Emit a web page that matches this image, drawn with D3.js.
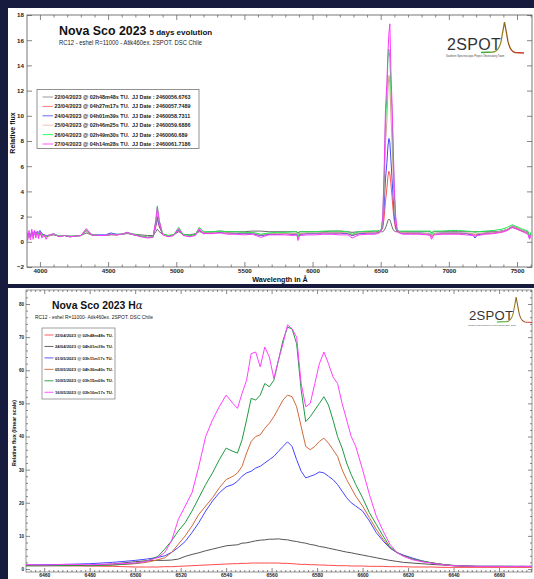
<!DOCTYPE html>
<html><head><meta charset="utf-8">
<script src="https://cdn.jsdelivr.net/npm/d3@7"></script>
<style>html,body{margin:0;padding:0;background:#171b3d;}svg{display:block}</style>
</head><body><svg id="c" width="534" height="579"></svg>
<script>
// ---------- TOP PANEL DATA (wavelength in Å, relative flux) ----------
const topWave = [3900,3910,3920,3930,3940,3950,3960,3970,3980,3990,4000,4015,4030,4045,4060,
4100,4140,4180,4220,4260,4300,4340,4380,4430,4480,
4520,4560,4600,4640,4690,4740,4790,4830,4850,4861,
4875,4900,4940,4980,5018,5050,5100,5140,5169,5200,
5260,5320,5380,5440,5500,5560,5620,5680,5740,5800,
5860,5885,5893,5905,5960,6020,6080,6140,6200,6260,
6290,6340,6400,6460,6490,
6505,6515,6525,6535,6545,6553,6560,6567,6575,6583,6592,6600,6610,6620,6635,6660,
6720,6780,6840,6865,6872,6890,6950,7010,7070,7130,7180,7192,7210,7270,7330,7390,7430,7465,7500,7540,7580,7592,7600];

const flux2204 = [0.35,0.3,0.4,0.35,0.5,0.45,0.6,0.55,0.6,0.5,0.6,0.5,0.45,0.4,0.45,
0.55,0.45,0.5,0.45,0.45,0.5,0.7,0.55,0.5,0.5,
0.55,0.55,0.6,0.65,0.6,0.55,0.5,0.5,0.8,1.0,
0.8,0.6,0.5,0.55,0.8,0.6,0.55,0.65,0.8,0.75,
0.8,0.85,0.8,0.8,0.8,0.85,0.85,0.8,0.8,0.8,
0.8,0.8,0.7,0.8,0.8,0.8,0.8,0.85,0.85,0.8,
0.75,0.8,0.8,0.85,0.8,
0.8,0.8,0.9,1.1,1.4,1.7,1.8,1.75,1.5,1.2,0.95,0.85,0.8,0.8,0.8,0.8,
0.8,0.8,0.8,0.8,0.75,0.8,0.8,0.8,0.8,0.8,0.8,0.8,0.8,0.8,0.8,0.85,0.95,1.15,1.0,0.85,0.8,0.4,0.7];

const flux2304 = [0.7,0.4,0.6,0.5,0.7,0.5,0.75,0.6,0.7,0.6,0.75,0.6,0.5,0.45,0.5,
0.6,0.45,0.5,0.4,0.45,0.5,0.85,0.55,0.5,0.5,
0.6,0.55,0.6,0.7,0.55,0.45,0.35,0.4,1.2,1.8,
1.2,0.6,0.45,0.5,0.9,0.55,0.45,0.55,0.9,0.65,
0.7,0.75,0.7,0.65,0.65,0.65,0.5,0.6,0.6,0.65,
0.6,0.6,0.35,0.6,0.65,0.65,0.7,0.7,0.7,0.65,
0.5,0.65,0.7,0.7,0.75,
0.9,1.1,1.9,3.2,4.2,5.2,5.6,5.4,4.6,3.6,2.4,1.6,1.0,0.8,0.75,0.7,
0.65,0.65,0.6,0.6,0.35,0.6,0.65,0.65,0.65,0.65,0.6,0.55,0.6,0.65,0.7,0.8,0.95,1.2,1.05,0.85,0.7,0.3,0.6];

const flux2404 = [0.8,0.5,0.7,0.5,0.8,0.6,0.85,0.7,0.8,0.75,0.9,0.65,0.55,0.5,0.5,
0.6,0.45,0.5,0.4,0.45,0.5,0.9,0.55,0.55,0.55,
0.7,0.6,0.6,0.7,0.55,0.45,0.35,0.4,1.3,2.0,
1.3,0.6,0.45,0.5,0.95,0.55,0.45,0.55,0.95,0.65,
0.7,0.75,0.7,0.65,0.65,0.65,0.5,0.6,0.6,0.65,
0.6,0.6,0.35,0.6,0.65,0.65,0.7,0.7,0.7,0.65,
0.5,0.65,0.7,0.7,0.8,
0.9,1.3,2.8,5.0,6.2,7.6,8.2,7.9,6.5,5.0,3.4,2.0,1.2,0.85,0.75,0.7,
0.7,0.7,0.65,0.6,0.4,0.65,0.7,0.7,0.7,0.65,0.5,0.3,0.55,0.7,0.75,0.85,1.0,1.25,1.1,0.9,0.75,0.3,0.6];

const flux2504 = [0.6,0.4,0.5,0.4,0.6,0.5,0.7,0.55,0.65,0.55,0.7,0.55,0.45,0.4,0.45,
0.6,0.45,0.5,0.4,0.45,0.5,0.9,0.55,0.5,0.5,
0.6,0.55,0.6,0.7,0.55,0.45,0.35,0.4,1.5,2.4,
1.5,0.6,0.45,0.5,1.0,0.55,0.45,0.55,1.0,0.7,
0.7,0.8,0.7,0.7,0.7,0.7,0.55,0.65,0.65,0.65,
0.65,0.65,0.35,0.65,0.7,0.7,0.7,0.75,0.75,0.7,
0.55,0.7,0.75,0.75,0.8,
0.9,1.5,4.0,7.8,9.5,12.0,13.2,12.6,10.0,8.0,5.2,3.0,1.5,0.9,0.75,0.75,
0.7,0.7,0.65,0.6,0.4,0.65,0.7,0.7,0.7,0.7,0.65,0.6,0.65,0.7,0.75,0.85,1.0,1.25,1.1,0.9,0.75,0.35,0.65];

const flux2604 = [0.7,0.3,0.6,0.4,0.7,0.5,0.8,0.6,0.75,0.6,0.8,0.6,0.5,0.45,0.5,
0.65,0.45,0.5,0.45,0.45,0.5,0.95,0.6,0.5,0.5,
0.6,0.6,0.6,0.75,0.6,0.45,0.35,0.4,1.7,2.85,
1.7,0.65,0.5,0.55,1.15,0.6,0.5,0.6,1.15,0.8,
0.8,0.85,0.8,0.8,0.75,0.75,0.6,0.7,0.75,0.75,
0.8,0.8,0.4,0.8,0.8,0.8,0.85,0.85,0.85,0.8,
0.6,0.8,0.85,0.85,0.9,
1.0,1.8,5.0,9.5,11.5,14.5,15.3,14.6,12.2,10.5,6.8,3.8,1.8,1.0,0.85,0.85,
0.85,0.85,0.85,0.85,0.55,0.85,0.85,0.9,0.9,0.85,0.8,0.75,0.8,0.85,0.9,1.0,1.15,1.35,1.2,1.0,0.85,0.4,0.75];

const flux2704 = [1.1,0.1,0.9,0.15,1.0,0.2,0.9,0.3,0.85,0.25,0.8,0.3,0.6,0.2,0.5,
0.65,0.4,0.5,0.4,0.45,0.5,1.05,0.55,0.5,0.5,
0.6,0.55,0.6,0.75,0.55,0.4,0.3,0.35,1.7,2.75,
1.7,0.55,0.4,0.5,1.05,0.5,0.4,0.5,1.05,0.65,
0.65,0.7,0.6,0.6,0.55,0.6,0.35,0.55,0.55,0.55,
0.5,0.55,0.1,0.5,0.55,0.55,0.6,0.6,0.55,0.55,
0.3,0.55,0.6,0.6,0.7,
1.0,2.0,5.5,10.5,12.5,15.0,16.5,17.3,13.5,11.0,7.5,4.2,2.0,1.0,0.7,0.6,
0.6,0.6,0.55,0.5,0.2,0.55,0.6,0.6,0.6,0.55,0.5,0.45,0.5,0.6,0.65,0.75,0.9,1.15,1.0,0.8,0.6,0.2,0.5];

const topLabels = [
 "22/04/2023 @ 02h48m48s TU.\u00a0 JJ Date : 2460056.6763",
 "23/04/2023 @ 04h27m17s TU.\u00a0 JJ Date : 2460057.7489",
 "24/04/2023 @ 04h01m39s TU.\u00a0 JJ Date : 2460058.7311",
 "25/04/2023 @ 02h46m25s TU.\u00a0 JJ Date : 2460059.6886",
 "26/04/2023 @ 02h49m30s TU.\u00a0 JJ Date : 2460060.689",
 "27/04/2023 @ 04h14m28s TU.\u00a0 JJ Date : 2460061.7186"];
const topXTicks = [4000,4500,5000,5500,6000,6500,7000,7500];
const topYTicks = [-2,0,2,4,6,8,10,12,14,16,18];

// ---------- BOTTOM PANEL DATA (H-alpha) ----------
const botWave = [6452,6460,6470,6480,6490,6500,6505,
6510,6513,6516,6519,6522,6525,6528,6531,6534,6537,6540,6543,
6545,6547,6549,6551,6553,6555,6557,6559,6561,6563,6565,6567,6569,6571,6573,6575,6577,6579,6581,6583,6585,6587,6589,6591,6593,6595,6597,
6600,6603,6606,6609,6612,6615,6618,
6622,6626,6630,
6635,6640,6645,6650,6655,6660,6665,6670,6675];

const ha2204 = [1.2,1.1,1.0,0.9,0.8,0.6,0.6,
0.6,0.7,0.7,0.8,0.9,1.0,1.1,1.2,1.3,1.4,1.5,1.6,
1.6,1.7,1.7,1.8,1.8,1.8,1.8,1.8,1.8,1.8,1.7,1.7,1.6,1.5,1.4,1.4,1.3,1.3,1.2,1.2,1.1,1.1,1.0,1.0,1.0,0.9,0.9,
0.9,0.8,0.8,0.8,0.7,0.7,0.7,
0.6,0.6,0.6,
0.5,0.5,0.5,0.5,0.5,0.5,0.5,0.5,0.5];

const ha2404 = [1.0,1.0,1.0,1.1,1.5,2.2,2.5,
2.6,2.6,2.7,3.0,3.8,4.4,4.9,5.5,6.0,6.5,7.0,7.2,
7.3,7.8,7.9,8.2,8.5,8.7,8.8,9.0,9.0,9.1,8.9,8.8,8.5,8.3,8.0,7.8,7.4,7.2,6.8,6.6,6.3,6.0,5.7,5.4,5.1,4.9,4.6,
4.2,3.8,3.4,3.0,2.6,2.3,2.0,
1.8,1.6,1.4,
1.2,1.0,0.9,0.8,0.8,0.8,0.8,0.8,0.8];

const ha0105 = [1.2,1.3,1.4,1.6,2.0,2.6,3.0,
3.5,4.0,5.0,6.5,8.3,11,14,17.5,20.5,23,24.8,25.5,
26.5,28,29,29.5,30.5,31,32,33,34,35.5,37,38.4,37,33,29.5,27.5,28,28.5,29.3,29,28,27,25.5,23.5,21.5,20,19,
17.5,14.5,11,8.5,6.3,5.0,4.2,
3.3,2.5,1.9,
1.4,1.0,0.9,0.8,0.8,0.8,0.8,0.8,0.8];

const ha0505 = [1.0,1.0,1.0,1.0,1.2,1.6,2.0,
2.8,3.4,5.0,7.5,10,13,16.5,19,21.5,24.5,27,28,
29,31,35,38.5,40,40.5,42.5,44,46,48.5,51,52.5,52,49,43,37,36,37,38.5,39.5,38,36,34,30,27,24.5,22,
19,15.5,12,9,6.5,5.0,4.0,
3.0,2.3,1.9,
1.4,1.0,0.8,0.8,0.7,0.7,0.7,0.7,0.7];

const ha1005 = [1.0,1.0,1.1,1.0,1.2,1.7,2.4,
3.8,6.0,8.5,11.5,14,17.5,21.5,25.5,29,33,36.5,35.5,
35,39,45,51.5,51,52.5,56,55,57,63,69,73,72.5,68,54,44.5,46,48,50,52,49.5,45,40,36.5,32,28.5,25.5,
21.5,17,13.5,10,6.7,5.0,4.0,
3.0,2.4,1.9,
1.4,1.1,0.9,0.8,0.8,0.8,0.8,0.7,0.8];

const ha1605 = [1.3,1.2,1.4,1.3,1.5,1.8,2.3,
3.5,5.0,8.5,15,19,23,31,40,45,49,52.5,50,
48.5,53,57,65,65.5,61,67,64,57.5,63,68,73.7,72.5,70,56,49,50,56,62,65.5,62,58,56,50,45,40,37,
30,22.5,16,11.5,7.5,5.0,3.8,
2.8,2.2,1.8,
1.3,1.0,0.9,0.8,0.8,0.8,0.7,0.8,0.7];

const botLabels = [
 "22/04/2023 @ 02h48m48s TU.",
 "24/04/2023 @ 04h01m39s TU.",
 "01/05/2023 @ 03h11m17s TU.",
 "05/05/2023 @ 04h30m40s TU.",
 "10/05/2023 @ 03h15m09s TU.",
 "16/05/2023 @ 03h10m17s TU."];
const botXTicks = [6460,6480,6500,6520,6540,6560,6580,6600,6620,6640,6660];
const botYTicks = [0,10,20,30,40,50,60,70,80];

// ---------- STYLES ----------
const FONT = "'Liberation Sans', Arial, Helvetica, sans-serif";
const topColors = ["#6a6a6a","#ff5252","#4848ff","#d4a196","#1eea4c","#ff38ff"];
const topLegendColors = ["#9a9a9a","#ff7a7a","#6a6aff","#f0c4bc","#33ff66","#ff55ff"];
const botColors = ["#ff4a4a","#555555","#4646ff","#cf6a3a","#1f9a42","#ff40ff"];

const svg = d3.select("#c");
svg.append("rect").attr("width",534).attr("height",579).attr("fill","#171b3d");
svg.append("rect").attr("x",8).attr("y",8).attr("width",526).attr("height",276).attr("fill","#fff");
svg.append("rect").attr("x",8).attr("y",288).attr("width",526).attr("height",291).attr("fill","#fff");

const defs = svg.append("defs");
const grad = defs.append("linearGradient").attr("id","lg").attr("x1","0").attr("x2","1").attr("y1","0").attr("y2","0");
grad.append("stop").attr("offset","0").attr("stop-color","#22b83a");
grad.append("stop").attr("offset","0.45").attr("stop-color","#9c8a1c");
grad.append("stop").attr("offset","0.6").attr("stop-color","#8a5a14");
grad.append("stop").attr("offset","1").attr("stop-color","#e03030");

function styleAxis(g, fs){
  g.select(".domain").remove();
  g.selectAll("line").attr("stroke","#555").attr("stroke-width",0.7);
  g.selectAll("text").attr("font-family",FONT).attr("font-size",fs).attr("font-weight","bold").attr("fill","#222");
}
function fit(t, w){
  const n = t.node().getComputedTextLength();
  if (n > 0) t.attr("textLength", w).attr("lengthAdjust","spacingAndGlyphs");
}

function drawLogo(x, y, s){
  const g = svg.append("g").attr("transform",`translate(${x},${y}) scale(${s})`);
  g.append("text").attr("x",0).attr("y",0).attr("font-family",FONT).attr("font-size",16)
   .attr("fill","#333").attr("letter-spacing",0.3).text("2SPOT");
  g.append("path").attr("d","M 34,2.5 L 46,2 Q 53,1.5 55,-14 L 57.5,-28 L 60,-14 Q 62,1 68,2.5 L 77,3")
   .attr("fill","none").attr("stroke","url(#lg)").attr("stroke-width",1.3);
  g.append("text").attr("x",-1).attr("y",7).attr("font-family",FONT).attr("font-size",2.6)
   .attr("fill","#444").text("Southern Spectroscopic Project Observatory Team");
}

// ================= TOP PANEL =================
{
  const x0=27, x1=532, y0=15, y1=267;
  const x = d3.scaleLinear().domain([3905,7610]).range([x0,x1]);
  const y = d3.scaleLinear().domain([-2,18]).range([y1,y0]);
  defs.append("clipPath").attr("id","cpt").append("rect").attr("x",x0).attr("y",y0).attr("width",x1-x0).attr("height",y1-y0);

  const minorX = d3.range(3950,7601,50).filter(v=>v%500!==0 && v%100===0);
  styleAxis(svg.append("g").attr("transform",`translate(0,${y1})`)
    .call(d3.axisBottom(x).tickValues(topXTicks).tickSize(-5).tickPadding(2).tickFormat(d3.format("d"))), 6.2);
  styleAxis(svg.append("g").attr("transform",`translate(0,${y1})`)
    .call(d3.axisBottom(x).tickValues(minorX).tickSize(-2.5).tickFormat("")), 6);
  styleAxis(svg.append("g").attr("transform",`translate(0,${y0})`)
    .call(d3.axisTop(x).tickValues(topXTicks).tickSize(-5).tickFormat("")), 6);
  styleAxis(svg.append("g").attr("transform",`translate(0,${y0})`)
    .call(d3.axisTop(x).tickValues(minorX).tickSize(-2.5).tickFormat("")), 6);
  styleAxis(svg.append("g").attr("transform",`translate(${x0},0)`)
    .call(d3.axisLeft(y).tickValues(topYTicks).tickSize(-5).tickPadding(3).tickFormat(d3.format("d"))), 6.2);
  styleAxis(svg.append("g").attr("transform",`translate(${x1},0)`)
    .call(d3.axisRight(y).tickValues(topYTicks).tickSize(-5).tickFormat("")), 6);
  svg.append("rect").attr("x",x0).attr("y",y0).attr("width",x1-x0).attr("height",y1-y0)
    .attr("fill","none").attr("stroke","#555").attr("stroke-width",0.8);

  const series = [flux2204, flux2304, flux2404, flux2504, flux2604, flux2704];
  const line = d3.line().x(d=>x(d[0])).y(d=>y(d[1]));
  const gl = svg.append("g").attr("clip-path","url(#cpt)");
  series.forEach((s,i)=>{
    gl.append("path").datum(topWave.map((w,j)=>[w,s[j]]))
      .attr("d",line).attr("fill","none").attr("stroke",topColors[i]).attr("stroke-width",1)
      .attr("stroke-linejoin","round");
  });

  // titles
  const t = svg.append("text").attr("x",59).attr("y",35).attr("font-family",FONT).attr("font-weight","bold").attr("fill","#111");
  t.append("tspan").attr("font-size",12.4).text("Nova Sco 2023");
  t.append("tspan").attr("font-size",8).attr("dx",3).text("5 days evolution");
  const st = svg.append("text").attr("x",59).attr("y",44.5).attr("font-family",FONT).attr("font-size",7.6)
    .attr("fill","#222").text("RC12 - eshel R=11000 - Atik460ex. 2SPOT. DSC Chile");
  fit(st,143);

  // legend
  svg.append("rect").attr("x",37).attr("y",89.5).attr("width",162).attr("height",59)
    .attr("fill","#fff").attr("stroke","#777").attr("stroke-width",0.8);
  const ref = svg.append("text").attr("font-family",FONT).attr("font-size",5.4).attr("font-weight","bold").text(topLabels[0]);
  const k = 136/ref.node().getComputedTextLength(); ref.remove();
  topLabels.forEach((lab,i)=>{
    const yy = 97 + i*9.4;
    svg.append("line").attr("x1",42.5).attr("x2",53).attr("y1",yy).attr("y2",yy)
      .attr("stroke",topLegendColors[i]).attr("stroke-width",1);
    const tt = svg.append("text").attr("x",54.5).attr("y",yy+2).attr("font-family",FONT)
      .attr("font-size",5.4).attr("font-weight","bold").attr("fill","#222").text(lab);
    tt.attr("textLength", tt.node().getComputedTextLength()*k).attr("lengthAdjust","spacingAndGlyphs");
  });

  // axis titles
  svg.append("text").attr("x",280).attr("y",281.5).attr("text-anchor","middle").attr("font-family",FONT)
    .attr("font-size",7.2).attr("font-weight","bold").attr("fill","#111").text("Wavelength in Å");
  svg.append("text").attr("transform","translate(14.5,133) rotate(-90)").attr("text-anchor","middle")
    .attr("font-family",FONT).attr("font-size",7).attr("font-weight","bold").attr("fill","#111").text("Relative flux");

  drawLogo(447,50,1);
}

// ================= BOTTOM PANEL =================
{
  const x0=26, x1=532, y0=290, y1=572;
  const x = d3.scaleLinear().domain([6452,6674.5]).range([x0,x1]);
  const y = d3.scaleLinear().domain([0,80]).range([569,304]);
  defs.append("clipPath").attr("id","cpb").append("rect").attr("x",x0).attr("y",y0).attr("width",x1-x0).attr("height",y1-y0);

  const minorX = d3.range(6454,6675,2).filter(v=>v%20!==0);
  const minorY = d3.range(2,85,2).filter(v=>v%10!==0);
  styleAxis(svg.append("g").attr("transform",`translate(0,${y1})`)
    .call(d3.axisBottom(x).tickValues(botXTicks).tickSize(-4).tickPadding(1.5).tickFormat(d3.format("d"))), 5);
  styleAxis(svg.append("g").attr("transform",`translate(0,${y1})`)
    .call(d3.axisBottom(x).tickValues(minorX).tickSize(-2).tickFormat("")), 5);
  styleAxis(svg.append("g").attr("transform",`translate(0,${y0})`)
    .call(d3.axisTop(x).tickValues(botXTicks).tickSize(-4).tickFormat("")), 5);
  styleAxis(svg.append("g").attr("transform",`translate(0,${y0})`)
    .call(d3.axisTop(x).tickValues(minorX).tickSize(-2).tickFormat("")), 5);
  styleAxis(svg.append("g").attr("transform",`translate(${x0},0)`)
    .call(d3.axisLeft(y).tickValues(botYTicks).tickSize(-4).tickPadding(2).tickFormat(d3.format("d"))), 4.6);
  styleAxis(svg.append("g").attr("transform",`translate(${x0},0)`)
    .call(d3.axisLeft(y).tickValues(minorY).tickSize(-2).tickFormat("")), 4.6);
  styleAxis(svg.append("g").attr("transform",`translate(${x1},0)`)
    .call(d3.axisRight(y).tickValues(botYTicks).tickSize(-4).tickFormat("")), 4.6);
  styleAxis(svg.append("g").attr("transform",`translate(${x1},0)`)
    .call(d3.axisRight(y).tickValues(minorY).tickSize(-2).tickFormat("")), 4.6);
  svg.append("rect").attr("x",x0).attr("y",y0).attr("width",x1-x0).attr("height",y1-y0)
    .attr("fill","none").attr("stroke","#666").attr("stroke-width",0.7);

  const series = [ha2204, ha2404, ha0105, ha0505, ha1005, ha1605];
  const line = d3.line().x(d=>x(d[0])).y(d=>y(d[1]));
  const gl = svg.append("g").attr("clip-path","url(#cpb)");
  series.forEach((s,i)=>{
    gl.append("path").datum(botWave.map((w,j)=>[w,s[j]]))
      .attr("d",line).attr("fill","none").attr("stroke",botColors[i]).attr("stroke-width",1)
      .attr("stroke-linejoin","round");
  });

  const t = svg.append("text").attr("x",52).attr("y",309).attr("font-family",FONT).attr("font-weight","bold")
    .attr("font-size",10.4).attr("fill","#111");
  t.append("tspan").text("Nova Sco 2023 H");
  t.append("tspan").attr("font-family","'DejaVu Serif', serif").attr("font-style","italic").attr("font-weight","normal").text("α");
  const st = svg.append("text").attr("x",35).attr("y",318.5).attr("font-family",FONT).attr("font-size",5)
    .attr("fill","#222").text("RC12 - eshel R=11000- Atik460ex. 2SPOT. DSC Chile");
  fit(st,118);

  svg.append("rect").attr("x",42).attr("y",328).attr("width",73).attr("height",71)
    .attr("fill","#fff").attr("stroke","#777").attr("stroke-width",0.7);
  const ref = svg.append("text").attr("font-family",FONT).attr("font-size",4.4).attr("font-weight","bold").text(botLabels[0]);
  const k = 58/ref.node().getComputedTextLength(); ref.remove();
  botLabels.forEach((lab,i)=>{
    const yy = 335 + i*11.45;
    svg.append("line").attr("x1",44.5).attr("x2",53.5).attr("y1",yy).attr("y2",yy)
      .attr("stroke",botColors[i]).attr("stroke-width",0.9);
    const tt = svg.append("text").attr("x",55).attr("y",yy+1.6).attr("font-family",FONT)
      .attr("font-size",4.4).attr("font-weight","bold").attr("fill","#222").text(lab);
    tt.attr("textLength", tt.node().getComputedTextLength()*k).attr("lengthAdjust","spacingAndGlyphs");
  });

  svg.append("text").attr("transform","translate(15.5,433) rotate(-90)").attr("text-anchor","middle")
    .attr("font-family",FONT).attr("font-size",5.4).attr("font-weight","bold").attr("fill","#111")
    .text("Relative flux (linear scale)");

  drawLogo(469,320,0.82);
}
</script>
</body></html>
